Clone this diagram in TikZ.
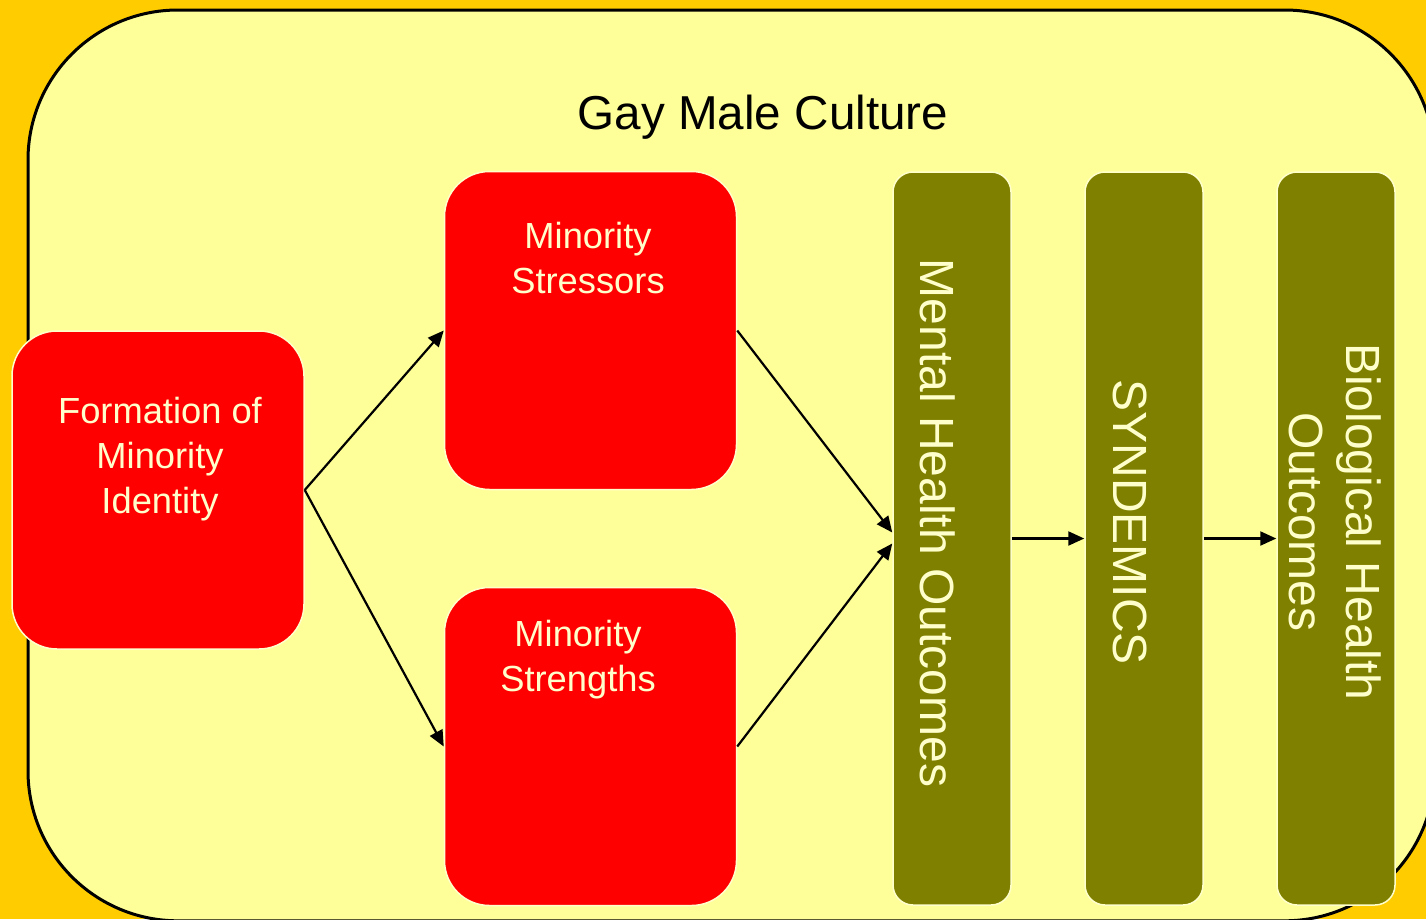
\documentclass[tikz,border=0pt]{standalone}
\usepackage{fontspec}
\setmainfont{Liberation Sans}
\usetikzlibrary{arrows.meta}

\definecolor{gold}{HTML}{FFCC00}
\definecolor{paleyellow}{HTML}{FFFF99}
\definecolor{cream}{HTML}{FFFFCC}
\definecolor{boxred}{HTML}{FF0000}
\definecolor{olivebar}{HTML}{808000}

\tikzset{
  culture/.style={draw=black, line width=3pt, fill=paleyellow, rounded corners=150pt},
  redbox/.style={draw=cream, line width=1.5pt, fill=boxred, rounded corners=45pt,
    minimum width=292pt, minimum height=318pt, inner sep=0pt},
  barbox/.style={draw=cream, line width=1.5pt, fill=olivebar, rounded corners=20pt,
    minimum width=118pt, minimum height=733pt, inner sep=0pt},
  redtext/.style={text=cream, align=center, inner sep=0pt,
    font=\fontsize{36.3}{45}\selectfont},
  bartext/.style={text=cream, align=center, inner sep=0pt, rotate=-90,
    font=\fontsize{48}{57}\selectfont},
  flow/.style={line width=2.2pt, -{Triangle[length=16pt,width=14pt]}},
}

\begin{document}
\begin{tikzpicture}[x=1pt, y=-1pt]
  % page frame
  \useasboundingbox (0,0) rectangle (1426,919);
  \clip (0,0) rectangle (1426,919);
  \fill[gold] (0,0) rectangle (1426,919);

  % surrounding culture
  \draw[culture] (28,10) rectangle (1434.6,920.8);
  \node[font=\fontsize{47.6}{56}\selectfont, anchor=base, inner sep=0pt] (title) at (763,129) {Gay Male Culture};

  % identity, stressors and strengths
  \node[redbox] (form) at (158,490) {};
  \node[redbox] (stress) at (590.5,330.5) {};
  \node[redbox] (strength) at (590.5,746.5) {};

  \node[redtext] (formtxt) at (160,459) {Formation of\\Minority\\Identity};
  \node[redtext] (stresstxt) at (588,258) {Minority\\Stressors};
  \node[redtext] (strengthtxt) at (578,660) {Minority\\Strengths};

  % outcome bars
  \node[barbox] (mental) at (952,538.5) {};
  \node[barbox] (synd) at (1144,538.5) {};
  \node[barbox] (bio) at (1336,538.5) {};

  \node[bartext] (mentaltxt) at (938,523) {Mental Health Outcomes};
  \node[bartext] (syndtxt) at (1130,522) {SYNDEMICS};
  \node[bartext] (biotxt) at (1335,522) {Biological Health\\Outcomes};

  % connectors
  \draw[flow] (form.east) -- (stress.west);
  \draw[flow] (form.east) -- (strength.west);
  \draw[flow] (stress.east) -- ([yshift=6pt]mental.west);
  \draw[flow] (strength.east) -- ([yshift=-5pt]mental.west);
  \draw[flow] (mental.east) -- (synd.west);
  \draw[flow] (synd.east) -- (bio.west);
\end{tikzpicture}
\end{document}
